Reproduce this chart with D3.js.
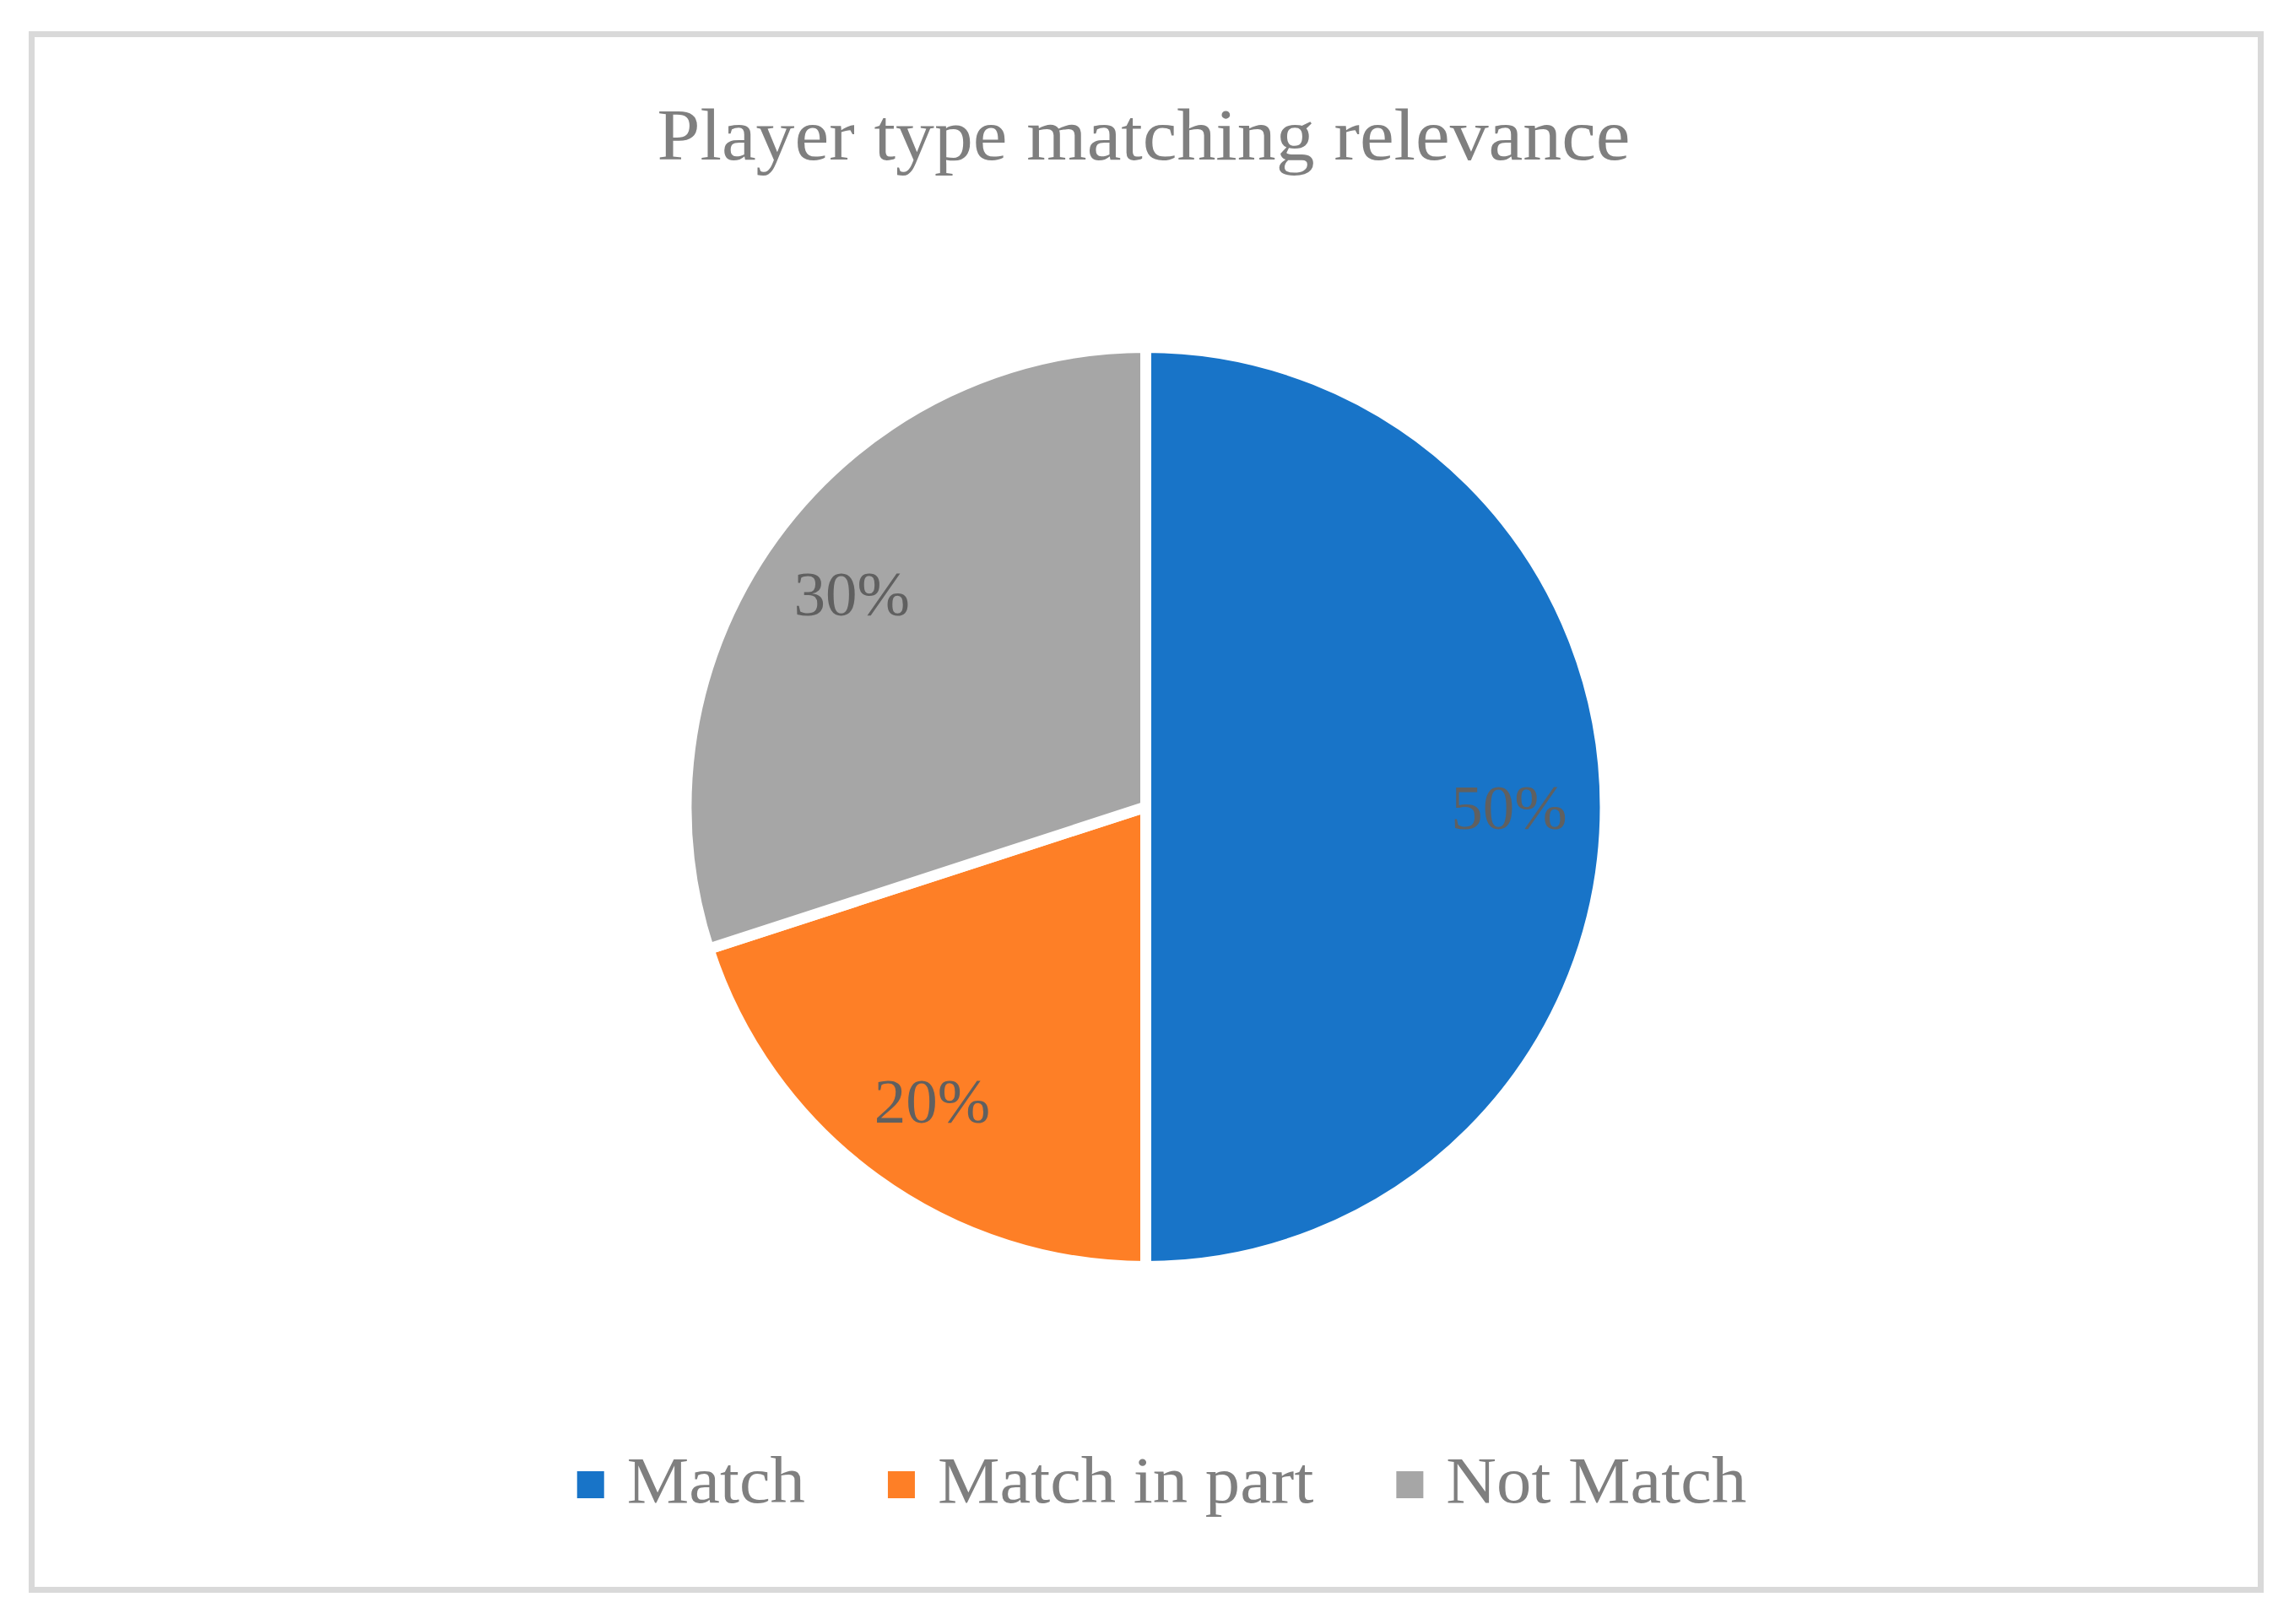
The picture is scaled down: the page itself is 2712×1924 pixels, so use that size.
<!DOCTYPE html>
<html>
<head>
<meta charset="utf-8">
<script src="https://cdn.jsdelivr.net/npm/d3@7"></script>
<style>
  body { margin: 0; background: #fff; }
  svg { display: block; }
</style>
</head>
<body>
<div id="chart"></div>
<script>
// Chart data
const title = "Player type matching relevance";
const categories = ["Match", "Match in part", "Not Match"];
const values = [50, 20, 30];
const colors = ["#1874c8", "#fe7f26", "#a6a6a6"];

(function () {
  const width = 2712, height = 1924;
  const cx = 1357.5, cy = 956, radius = 538;
  const serif = "'Liberation Serif', 'Times New Roman', serif";

  // the original face is a bit wider than Liberation Serif
  function widen(sel, k) {
    const len = sel.node().getComputedTextLength();
    sel.attr("textLength", len * k).attr("lengthAdjust", "spacingAndGlyphs");
    return len * k;
  }

  const svg = d3.select("#chart")
    .append("svg")
    .attr("width", width)
    .attr("height", height);

  // chart frame
  svg.append("rect")
    .attr("x", 37.5)
    .attr("y", 40.5)
    .attr("width", 2641)
    .attr("height", 1843)
    .style("fill", "#fff")
    .style("stroke", "#d9d9d9")
    .style("stroke-width", 7);

  // title
  const titleText = svg.append("text")
    .attr("x", 1355)
    .attr("y", 189)
    .attr("text-anchor", "middle")
    .style("font-family", serif)
    .style("font-size", "86px")
    .style("fill", "#7f7f7f")
    .text(title);
  widen(titleText, 1.066);

  const color = d3.scaleOrdinal()
    .domain(categories)
    .range(colors);

  const pie = d3.pie().value(d => d.value).sort(null);
  const slices = pie(categories.map((c, i) => ({ category: c, value: values[i] })));

  // stroke is centred on the edge, so push the fill out by half of it
  const arc = d3.arc().innerRadius(0).outerRadius(radius + 6.5);
  const labelArc = d3.arc().innerRadius(radius * 0.8).outerRadius(radius * 0.8);

  const g = svg.append("g")
    .attr("transform", `translate(${cx}, ${cy})`);

  g.selectAll("path")
    .data(slices)
    .enter()
    .append("path")
    .attr("d", arc)
    .style("fill", d => color(d.data.category))
    .style("stroke", "#fff")
    .style("stroke-width", 13)
    .style("stroke-linejoin", "miter");

  // percentage labels
  g.selectAll("text.label")
    .data(slices)
    .enter()
    .append("text")
    .attr("class", "label")
    .attr("transform", d => `translate(${labelArc.centroid(d)})`)
    .attr("text-anchor", "middle")
    .attr("dy", "0.35em")
    .style("font-family", serif)
    .style("font-size", "75px")
    .style("fill", "#606060")
    .text(d => d.data.value + "%");

  // legend
  const legend = svg.append("g");
  const box = 32, boxGap = 27, itemGap = 98;
  let x = 0;
  categories.forEach(c => {
    const item = legend.append("g").attr("transform", `translate(${x}, 0)`);
    item.append("rect")
      .attr("x", 0)
      .attr("y", -37)
      .attr("width", box)
      .attr("height", box)
      .style("fill", color(c));
    const t = item.append("text")
      .attr("x", box + boxGap)
      .attr("y", 0)
      .style("font-family", serif)
      .style("font-size", "78px")
      .style("fill", "#7f7f7f")
      .text(c);
    x += box + boxGap + widen(t, 1.06) + itemGap;
  });
  const total = x - itemGap;
  legend.attr("transform", `translate(${1376.5 - total / 2}, 1780)`);
})();
</script>
</body>
</html>
